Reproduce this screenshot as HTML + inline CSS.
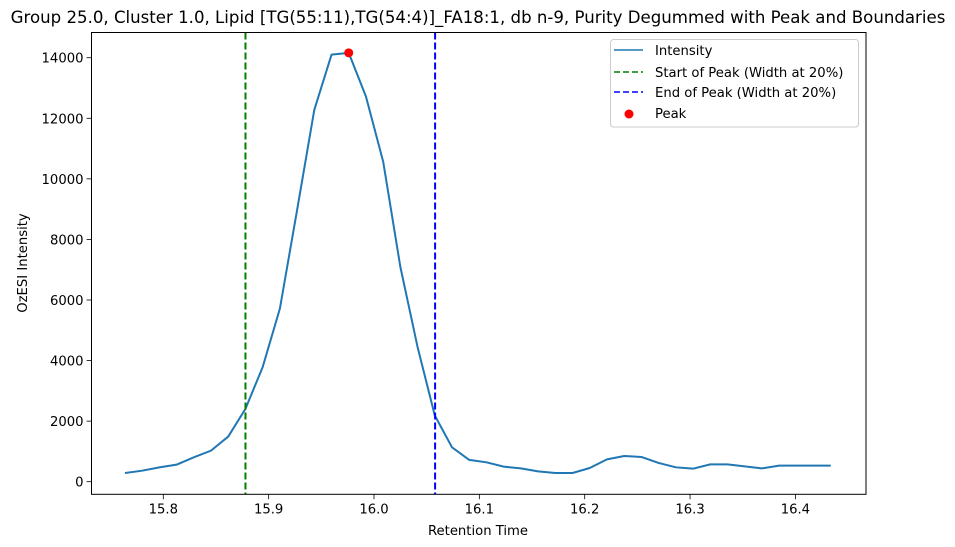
<!DOCTYPE html>
<html><head><meta charset="utf-8"><style>
body{margin:0;background:#fff;}
svg{display:block;font-family:"DejaVu Sans","Liberation Sans",sans-serif;}
</style></head><body>
<svg width="955" height="547" viewBox="0 0 955 547" id="chart">
<rect x="0" y="0" width="955" height="547" fill="#fff"/>
<text x="478" y="23" text-anchor="middle" font-size="16.6">Group 25.0, Cluster 1.0, Lipid [TG(55:11),TG(54:4)]_FA18:1, db n-9, Purity Degummed with Peak and Boundaries</text>
<g id="plot"></g>
<text x="478" y="535" text-anchor="middle" font-size="13.2">Retention Time</text>
<text transform="translate(27,263) rotate(-90)" text-anchor="middle" font-size="13.2">OzESI Intensity</text>
<g>
<rect x="610.5" y="39.5" width="248" height="87.5" rx="3" fill="#fff" stroke="#ccc"/>
<g><line x1="614" y1="50" x2="643" y2="50" stroke="#1f77b4" stroke-width="1.6"/><text x="655" y="55" font-size="13.2">Intensity</text></g>
<g><line x1="614" y1="72" x2="643" y2="72" stroke="#008000" stroke-width="1.6" stroke-dasharray="6,3"/><text x="655" y="77" font-size="13.2">Start of Peak (Width at 20%)</text></g>
<g><line x1="614" y1="92" x2="643" y2="92" stroke="#0000ff" stroke-width="1.6" stroke-dasharray="6,3"/><text x="655" y="97" font-size="13.2">End of Peak (Width at 20%)</text></g>
<g><circle cx="629" cy="114" r="4.5" fill="#ff0000"/><text x="655" y="118" font-size="13.2">Peak</text></g>
</g>
</svg>
<script>
const values=[288,364,474,563,805,1026,1490,2405,3785,5715,8970,12280,14100,14160,12720,10570,7090,4445,2185,1135,720,640,497,440,340,288,288,453,738,850,817,620,475,430,573,573,507,440,530,530,530,530];
const tStart=15.7636, tStep=0.01634;
const xTicks=[15.8,15.9,16.0,16.1,16.2,16.3,16.4];
const yTicks=[0,2000,4000,6000,8000,10000,12000,14000];
const startPeak=[15.878];
const endPeak=[16.058];
const peakPoint=[15.976,14160];

const L=91.5,R=866,T=32.5,B=494.3;
const xs=t=>163.3+(t-15.8)*1053.5;
const ys=v=>481.7-v*(60.57/2000);
const NS='http://www.w3.org/2000/svg';
const g=document.getElementById('plot');
function mk(tag,attrs){const e=document.createElementNS(NS,tag);for(const k in attrs)e.setAttribute(k,attrs[k]);g.appendChild(e);return e;}

xTicks.forEach(t=>{
 const x=xs(t);
 const tk=mk('line',{x1:x,y1:B,x2:x,y2:B+4.9,stroke:'#000','stroke-width':0.8});
 
 
 const tx=mk('text',{x:x,y:B+19,'text-anchor':'middle','font-size':13.2});
 tx.textContent=t.toFixed(1);
 
 
});
yTicks.forEach(v=>{
 const y=ys(v);
 const tk=mk('line',{x1:L-4.9,y1:y,x2:L,y2:y,stroke:'#000','stroke-width':0.8});
 
 
 const tx=mk('text',{x:L-8,y:y+5,'text-anchor':'end','font-size':13.2});
 tx.textContent=String(v);
 
 
});

const pts=values.map((v,i)=>xs(tStart+i*tStep).toFixed(2)+','+ys(v).toFixed(2)).join(' ');
const line=mk('polyline',{points:pts,fill:'none',stroke:'#1f77b4','stroke-width':2,'stroke-linejoin':'round'});



startPeak.forEach(t=>{
 const l=mk('line',{x1:xs(t),y1:T,x2:xs(t),y2:B,stroke:'#008000','stroke-width':2,'stroke-dasharray':'7,3'});
 
 
});
endPeak.forEach(t=>{
 const l=mk('line',{x1:xs(t),y1:T,x2:xs(t),y2:B,stroke:'#0000ff','stroke-width':2,'stroke-dasharray':'7,3'});
 
 
});
const pk=mk('circle',{cx:xs(peakPoint[0]),cy:ys(peakPoint[1]),r:4.5,fill:'#ff0000'});



const fr=mk('rect',{x:L,y:T,width:R-L,height:B-T,fill:'none',stroke:'#000','stroke-width':1});


</script>
</body></html>
